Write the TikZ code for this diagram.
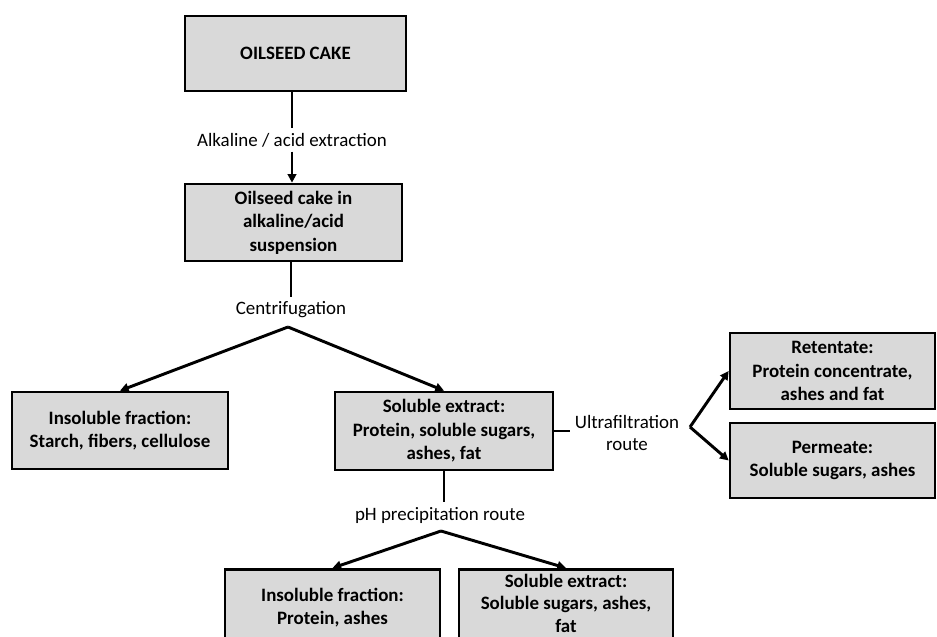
\documentclass[tikz,border=0pt]{standalone}
\usepackage{fontspec}
\setmainfont{Carlito}
\usetikzlibrary{arrows.meta}

\tikzset{
    stagebox/.style={rectangle, draw, line width=2pt, fill=boxgrey, align=center, font=\fontsize{14.2}{17.6}\selectfont\bfseries, inner sep=0pt},
    routelabel/.style={align=center, font=\fontsize{14.2}{17}\selectfont},
    thinline/.style={line width=1pt},
    flowarrow/.style={line width=2.2pt, -{Triangle[length=6.5pt, width=6.5pt]}}
}
\definecolor{boxgrey}{RGB}{217,217,217}

\begin{document}
\begin{tikzpicture}[x=0.75pt, y=-0.75pt]
                    \useasboundingbox (0,0) rectangle (937,636);
                    \clip (0,0) rectangle (937,636);
                    % boxes
                    \node[stagebox, minimum width=221*0.75pt, minimum height=75*0.75pt] (cake) at (295.5,53.5) {OILSEED CAKE};
                    \node[stagebox, minimum width=217*0.75pt, minimum height=77*0.75pt] (susp) at (293.5,222.5) {Oilseed cake in\\alkaline/acid\\suspension};
                    \node[stagebox, minimum width=216*0.75pt, minimum height=77*0.75pt] (insol) at (120,430.5) {Insoluble fraction:\\Starch, fibers, cellulose};
                    \node[stagebox, minimum width=218*0.75pt, minimum height=78*0.75pt] (solub) at (444,431) {Soluble extract:\\Protein, soluble sugars,\\ashes, fat};
                    \node[stagebox, minimum width=205*0.75pt, minimum height=76*0.75pt] (reten) at (832.5,371) {Retentate:\\Protein concentrate,\\ashes and fat};
                    \node[stagebox, minimum width=205*0.75pt, minimum height=75*0.75pt] (perm) at (832.5,460.5) {Permeate:\\Soluble sugars, ashes};
                    \node[stagebox, minimum width=215*0.75pt, minimum height=77*0.75pt, anchor=north] (insolpr) at (332.5,568) {Insoluble fraction:\\Protein, ashes};
                    \node[stagebox, minimum width=214*0.75pt, minimum height=77*0.75pt, anchor=north, text depth=7pt, font=\fontsize{14.2}{16.8}\selectfont\bfseries] (solubpr) at (566,568) {Soluble extract:\\Soluble sugars, ashes,\\fat};
                    % route labels
                    \node[routelabel] (extr) at (292,140) {Alkaline / acid extraction};
                    \node[routelabel] (centri) at (291,310) {Centrifugation};
                    \node[routelabel] (ultra) at (627,433) {Ultrafiltration\\route};
                    \node[routelabel] (phprec) at (440,515) {pH precipitation route};
                    % branch points
                    \coordinate (splitc) at (288,327);
                    \coordinate (splitu) at (690,427);
                    \coordinate (splitp) at (441,531);
                    % connectors
                    \draw[thinline] (cake.south -| extr) -- (extr);
                    \draw[flowarrow] (extr) -- (susp.north -| extr);
                    \draw[thinline] (susp.south -| centri) -- (centri);
                    \draw[flowarrow] (splitc) -- (insol.north);
                    \draw[flowarrow] (splitc) -- (solub.north);
                    \draw[thinline] (solub.east) -- (ultra.west |- solub.east);
                    \draw[flowarrow] (splitu) -- (reten.west);
                    \draw[flowarrow] (splitu) -- (perm.west);
                    \draw[thinline] (solub.south) -- (solub.south |- phprec.north);
                    \draw[flowarrow] (splitp) -- (insolpr.north);
                    \draw[flowarrow] (splitp) -- (solubpr.north);
                \end{tikzpicture}
\end{document}
